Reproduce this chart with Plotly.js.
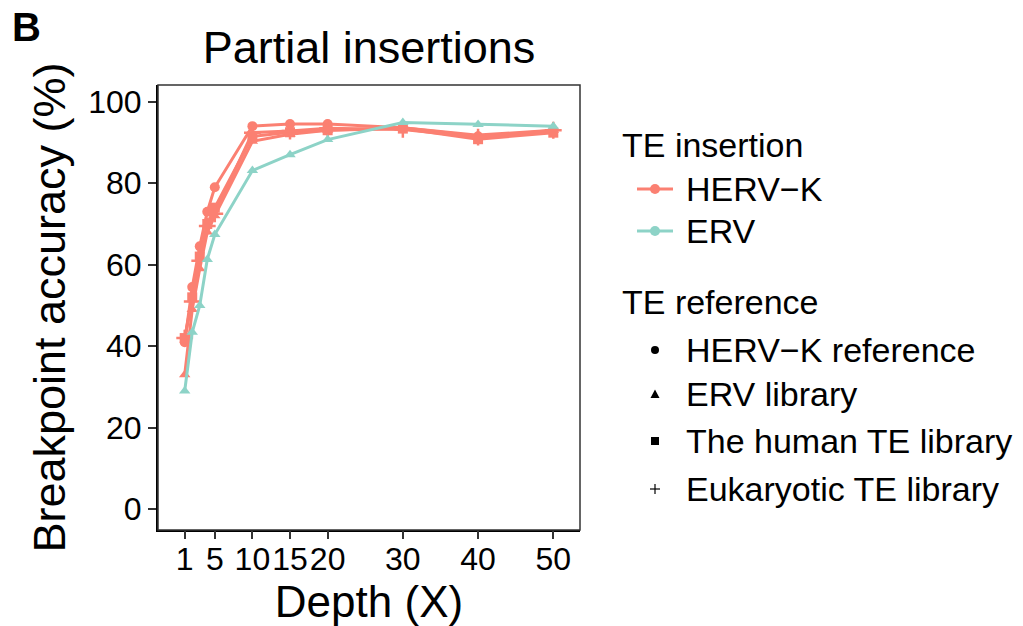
<!DOCTYPE html>
<html>
<head>
<meta charset="utf-8">
<script src="https://cdn.plot.ly/plotly-3.0.1.min.js"></script>
<style>html,body{margin:0;padding:0;background:#fff;}#chart{width:1023px;height:626px;}</style>
</head>
<body>
<div id="chart"></div>
<script>
// ---- data ----
const depth = [1, 2, 3, 4, 5, 10, 15, 20, 30, 40, 50];
const xTickVals = [1, 5, 10, 15, 20, 30, 40, 50];
const xTickText = ["1", "5", "10", "15", "20", "30", "40", "50"];
const yTickVals = [0, 20, 40, 60, 80, 100];

const hervkHervRef   = [41.0, 54.5, 64.5, 73.0, 79.0, 94.0, 94.5, 94.5, 93.6, 91.5, 92.6];
const hervkErvLib    = [33.0, 49.0, 59.0, 68.0, 72.0, 90.3, 92.0, 93.0, 93.6, 91.8, 93.0];
const hervkHumanLib  = [42.0, 52.0, 62.0, 70.0, 74.0, 91.5, 92.5, 93.0, 93.4, 90.8, 92.4];
const hervkEukLib    = [42.0, 51.0, 61.0, 69.5, 72.5, 92.4, 92.8, 93.5, 93.2, 91.3, 93.0];
const ervErvLib      = [29.0, 43.4, 50.0, 61.3, 67.4, 83.1, 87.0, 90.7, 94.9, 94.4, 94.0];

const insertionNames = ["HERV\u2212K", "ERV"];
const referenceNames = ["HERV\u2212K reference", "ERV library", "The human TE library", "Eukaryotic TE library"];
const colHERVK = "#FB8072";
const colERV = "#8DD3C7";

function series(y, color, symbol, name) {
  const isPlus = symbol === "cross-thin";
  return {
    x: depth, y: y, type: "scatter", mode: "lines+markers", name: name,
    showlegend: false, hoverinfo: "x+y+name",
    line: {color: color, width: 3},
    marker: {color: color, symbol: symbol, size: isPlus ? 12 : 10,
             line: {color: color, width: isPlus ? 2.5 : 0}}
  };
}

const traces = [
  series(hervkHervRef, colHERVK, "circle", insertionNames[0] + " / " + referenceNames[0]),
  series(hervkErvLib, colHERVK, "triangle-up", insertionNames[0] + " / " + referenceNames[1]),
  series(hervkHumanLib, colHERVK, "square", insertionNames[0] + " / " + referenceNames[2]),
  series(hervkEukLib, colHERVK, "cross-thin", insertionNames[0] + " / " + referenceNames[3]),
  series(ervErvLib, colERV, "triangle-up", insertionNames[1] + " / " + referenceNames[1])
];
// invisible helper trace so the tick-only overlay axis is active
traces.push({x: [xTickVals[0]], y: [yTickVals[0]], xaxis: "x2", yaxis: "y", type: "scatter", mode: "markers",
  marker: {opacity: 0}, showlegend: false, hoverinfo: "skip"});

// ---- layout geometry (pixels) ----
const W = 1023, H = 626;
const L = 158, R = 580, T = 85, B = 530;
const px = v => (v - L) / (R - L);
const py = v => (B - v) / (B - T);

const FONT = "Liberation Sans, Arial, Helvetica, sans-serif";
const shapes = [];
const annotations = [];

// panel border
shapes.push({type: "rect", xref: "paper", yref: "paper", x0: 0, x1: 1, y0: 0, y1: 1,
  line: {color: "#333333", width: 1.5}, fillcolor: "rgba(0,0,0,0)", layer: "above"});

// legend: TE insertion
const legX0 = 637, legX1 = 673, legXc = 655, legText = 684;
annotations.push({xref: "paper", yref: "paper", x: px(620), y: py(145), xanchor: "left", yanchor: "middle",
  text: "TE insertion", showarrow: false, font: {family: FONT, size: 34, color: "#000"}});
[[insertionNames[0], colHERVK, 189], [insertionNames[1], colERV, 231]].forEach(([t, c, yy]) => {
  shapes.push({type: "line", xref: "paper", yref: "paper", x0: px(legX0), x1: px(legX1), y0: py(yy), y1: py(yy),
    line: {color: c, width: 3}});
  shapes.push({type: "circle", xref: "paper", yref: "paper", x0: px(legXc - 5), x1: px(legXc + 5),
    y0: py(yy + 5), y1: py(yy - 5), fillcolor: c, line: {width: 0}});
  annotations.push({xref: "paper", yref: "paper", x: px(legText), y: py(yy), xanchor: "left", yanchor: "middle",
    text: t, showarrow: false, font: {family: FONT, size: 34, color: "#000"}});
});

// legend: TE reference
annotations.push({xref: "paper", yref: "paper", x: px(620), y: py(302), xanchor: "left", yanchor: "middle",
  text: "TE reference", showarrow: false, font: {family: FONT, size: 34, color: "#000"}});
const refY = [350, 394, 441, 489];
referenceNames.forEach((t, i) => {
  const yy = refY[i];
  annotations.push({xref: "paper", yref: "paper", x: px(legText), y: py(yy), xanchor: "left", yanchor: "middle",
    text: t, showarrow: false, font: {family: FONT, size: 34, color: "#000"}});
});
// symbols
shapes.push({type: "circle", xref: "paper", yref: "paper", x0: px(legXc - 4), x1: px(legXc + 4),
  y0: py(refY[0] + 4), y1: py(refY[0] - 4), fillcolor: "#000", line: {width: 0}});
shapes.push({type: "path", xref: "paper", yref: "paper",
  path: "M " + px(legXc - 4.5) + "," + py(refY[1] + 4) + " L " + px(legXc + 4.5) + "," + py(refY[1] + 4) +
        " L " + px(legXc) + "," + py(refY[1] - 4.5) + " Z", fillcolor: "#000", line: {width: 0}});
shapes.push({type: "rect", xref: "paper", yref: "paper", x0: px(legXc - 4), x1: px(legXc + 4),
  y0: py(refY[2] + 4), y1: py(refY[2] - 4), fillcolor: "#000", line: {width: 0}});
shapes.push({type: "line", xref: "paper", yref: "paper", x0: px(legXc - 5), x1: px(legXc + 5),
  y0: py(refY[3]), y1: py(refY[3]), line: {color: "#000", width: 1.2}});
shapes.push({type: "line", xref: "paper", yref: "paper", x0: px(legXc), x1: px(legXc),
  y0: py(refY[3] - 5), y1: py(refY[3] + 5), line: {color: "#000", width: 1.2}});

// panel tag
annotations.push({xref: "paper", yref: "paper", x: px(10), y: py(27), xanchor: "left", yanchor: "middle",
  text: "<b>B</b>", showarrow: false, font: {family: FONT, size: 40, color: "#000"}});

const xRange = [-2.55, 53.55];
const layout = {
  width: W, height: H,
  margin: {l: L, r: W - R, t: T, b: H - B, pad: 0},
  paper_bgcolor: "#fff", plot_bgcolor: "#fff",
  font: {family: FONT, color: "#000"},
  title: {text: "Partial insertions", font: {family: FONT, size: 45, color: "#000"},
          x: 0.5, xref: "paper", xanchor: "center", y: 1 - 47 / H, yref: "container", yanchor: "middle"},
  xaxis: {
    range: xRange, tickmode: "array", tickvals: xTickVals, ticktext: xTickText,
    showgrid: false, zeroline: false, showline: true, linecolor: "#000", linewidth: 2,
    ticks: "", tickangle: 0,
    tickfont: {family: FONT, size: 32, color: "#000"},
    title: {text: "Depth (X)", font: {family: FONT, size: 44, color: "#000"}, standoff: 10},
    automargin: false
  },
  xaxis2: {
    overlaying: "x", matches: "x", anchor: "y", side: "bottom",
    range: xRange, tickmode: "array", tickvals: xTickVals, showticklabels: false,
    showgrid: false, zeroline: false, showline: false,
    ticks: "outside", ticklen: 8, tickwidth: 2, tickcolor: "#333",
    automargin: false
  },
  yaxis: {
    range: [-5.1, 104.1], tickmode: "array", tickvals: yTickVals,
    showgrid: false, zeroline: false, showline: true, linecolor: "#000", linewidth: 2,
    ticks: "outside", ticklen: 8, tickwidth: 2, tickcolor: "#333",
    tickfont: {family: FONT, size: 32, color: "#000"},
    title: {text: "Breakpoint accuracy (%)", font: {family: FONT, size: 45, color: "#000"}, standoff: 8},
    automargin: false
  },
  showlegend: false,
  shapes: shapes,
  annotations: annotations
};

Plotly.newPlot("chart", traces, layout, {displayModeBar: false, staticPlot: true});
</script>
</body>
</html>
